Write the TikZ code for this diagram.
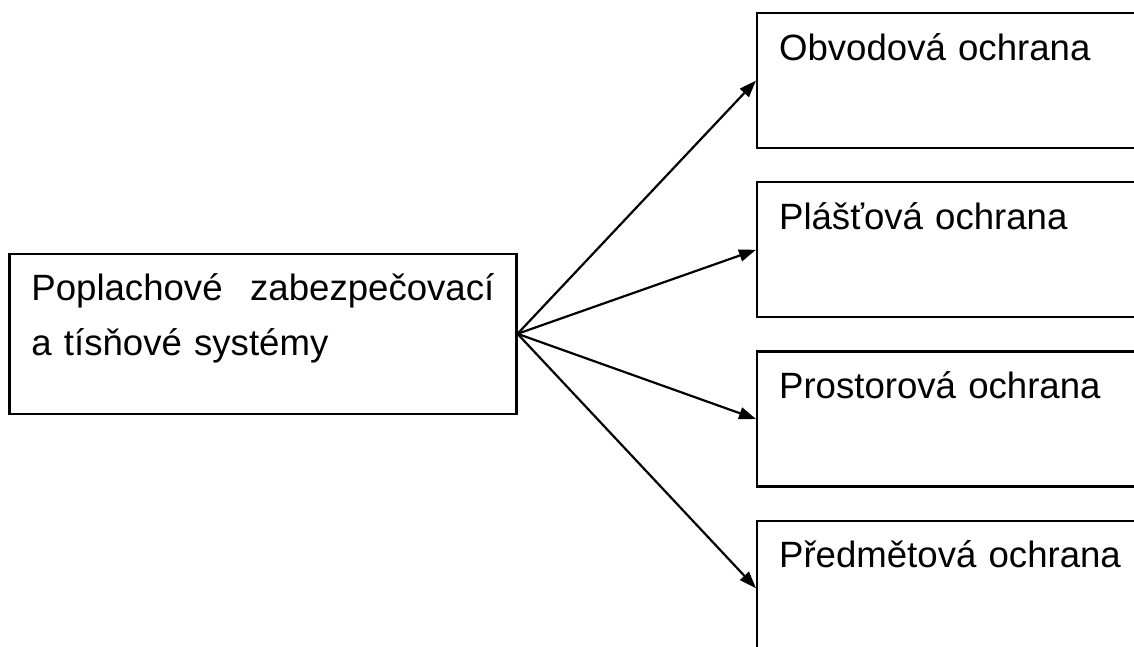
\documentclass[tikz,border=0pt]{standalone}
\usepackage{fontspec}
\setmainfont{Liberation Sans}
\usetikzlibrary{positioning, arrows.meta}

\begin{document}
\begin{tikzpicture}[
    x=1pt, y=-1pt,
    >={Triangle[length=17pt, width=12pt]},
    every node/.style={font=\fontsize{36.6}{55}\selectfont},
    box/.style={draw, line width=2.2pt, inner xsep=22pt, inner ysep=0pt,
                text width=420pt, align=left, text height=47pt, text depth=88pt},
    mainbox/.style={box, text width=463pt, text depth=113pt},
    arrow/.style={->, line width=2.2pt}
]
  \clip (0,0) rectangle (1134,647);

  % Main system on the left
  \node[mainbox, anchor=north west] (pzts) at (8.3,252.7)
    {\hbox to 463pt{Poplachové\hfill zabezpečovací}\\a tísňové systémy};

  % Kinds of protection, stacked on the right
  \node[box, anchor=north west] (obvod) at (756,12) {Obvodová ochrana};
  \node[box] (plast)   [below=32pt of obvod] {Plášťová ochrana};
  \node[box] (prostor) [below=32pt of plast] {Prostorová ochrana};
  \node[box] (predmet) [below=32pt of prostor] {Předmětová ochrana};

  % Arrows from the main box
  \foreach \target in {obvod, plast, prostor, predmet}
    \draw[arrow] (pzts.east) -- (\target.west);
\end{tikzpicture}
\end{document}
